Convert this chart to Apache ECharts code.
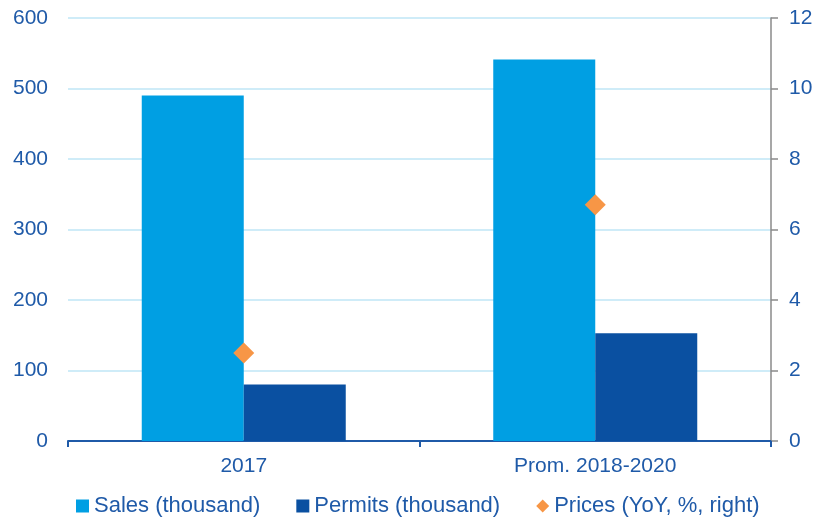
<!DOCTYPE html>
<html>
<head>
<meta charset="utf-8">
<script src="https://cdn.jsdelivr.net/npm/echarts@6/dist/echarts.min.js"></script>
<style>
html,body{margin:0;padding:0;background:#fff;}
#chart{width:819px;height:517px;}
</style>
</head>
<body>
<div id="chart"></div>
<script>
// Housing market: sales and permits (left axis, thousand) and price growth (right axis, %)
const categories = ['2017', 'Prom. 2018-2020'];
const sales = [490, 541];
const permits = [80, 153];
const prices = [2.5, 6.7];

const leftTicks = [0, 600, 100];
const rightTicks = [0, 12, 2];

const textColor = '#1f5aa8';
const font = 'Liberation Sans, Arial, sans-serif';
const fs = 21;

const chart = echarts.init(document.getElementById('chart'));
chart.setOption({
  animation: false,
  textStyle: { fontFamily: font },
  grid: { left: 68, right: 48, top: 18, bottom: 76 },
  legend: {
    bottom: 0,
    left: 76,
    padding: 0,
    itemWidth: 13,
    itemHeight: 13,
    itemGap: 36,
    textStyle: { color: textColor, fontSize: 22, fontFamily: font },
    data: [
      { name: 'Sales (thousand)', icon: 'rect' },
      { name: 'Permits (thousand)', icon: 'rect' },
      { name: 'Prices (YoY, %, right)', icon: 'diamond', itemStyle: { opacity: 1 } }
    ]
  },
  xAxis: {
    type: 'category',
    data: categories,
    axisLine: { lineStyle: { color: '#1f5aa8', width: 2 } },
    axisTick: { show: true, length: 6, lineStyle: { color: '#1f5aa8', width: 2 } },
    axisLabel: { color: textColor, fontSize: fs, margin: 15 }
  },
  yAxis: [
    {
      type: 'value',
      min: leftTicks[0], max: leftTicks[1], interval: leftTicks[2],
      axisLine: { show: false },
      axisTick: { show: false },
      axisLabel: { color: textColor, fontSize: fs, margin: 20 },
      splitLine: { lineStyle: { color: '#bfe6f6', width: 1.5 } }
    },
    {
      type: 'value',
      min: rightTicks[0], max: rightTicks[1], interval: rightTicks[2],
      axisLine: { show: true, lineStyle: { color: '#8a8a8a', width: 1.5 } },
      axisTick: { show: true, length: 7, lineStyle: { color: '#8a8a8a', width: 1.5 } },
      axisLabel: { color: textColor, fontSize: fs, margin: 18 },
      splitLine: { show: false }
    }
  ],
  series: [
    {
      name: 'Sales (thousand)',
      type: 'bar',
      data: sales,
      barWidth: 102,
      barGap: '0%',
      itemStyle: { color: '#009fe3' }
    },
    {
      name: 'Permits (thousand)',
      type: 'bar',
      data: permits,
      barWidth: 102,
      barGap: '0%',
      itemStyle: { color: '#0a50a1' }
    },
    {
      name: 'Prices (YoY, %, right)',
      type: 'scatter',
      yAxisIndex: 1,
      data: prices,
      symbol: 'diamond',
      symbolSize: [21, 21],
      itemStyle: { color: '#f79646', opacity: 1 },
      z: 5
    }
  ]
});
</script>
</body>
</html>
